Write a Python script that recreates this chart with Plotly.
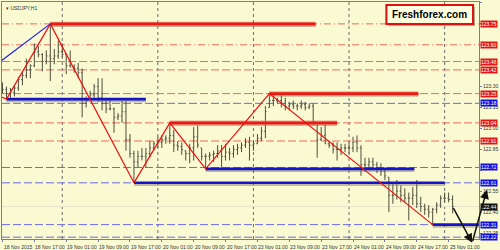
import plotly.graph_objects as go

# ---------------- data ----------------
high = [123.33,123.30,123.29,123.31,123.37,123.40,123.50,123.46,123.61,123.59,
        123.54,123.56,123.75,123.57,123.63,123.61,123.54,123.56,123.46,123.47,
        123.43,123.23,123.27,123.32,123.36,123.36,123.22,123.22,123.15,123.11,
        123.20,123.20,122.96,122.84,122.84,122.86,122.86,122.91,122.91,122.94,
        122.95,122.95,123.04,122.99,122.91,122.90,122.84,122.89,123.01,123.02,
        122.86,122.82,122.83,122.84,122.88,122.88,122.89,122.86,122.88,122.89,
        122.90,122.93,122.94,122.91,122.96,123.01,123.16,123.25,123.24,123.22,
        123.24,123.22,123.19,123.20,123.18,123.20,123.19,123.18,123.18,123.04,
        123.01,123.04,122.91,122.90,122.90,122.89,122.89,122.90,122.94,122.95,
        122.88,122.79,122.79,122.79,122.76,122.75,122.71,122.65,122.61,122.63,
        122.59,122.57,122.54,122.58,122.63,122.51,122.46,122.45,122.43,122.47,
        122.52,122.54,122.54,122.52]
low = [123.25,123.21,123.22,123.23,123.27,123.31,123.36,123.36,123.44,123.51,
       123.41,123.46,123.34,123.46,123.50,123.51,123.39,123.44,123.40,123.36,
       123.08,123.15,123.22,123.22,123.19,123.13,123.11,123.13,122.97,123.06,
       123.04,122.84,122.79,122.61,122.72,122.77,122.72,122.79,122.84,122.86,
       122.86,122.89,122.89,122.83,122.84,122.81,122.77,122.75,122.77,122.86,
       122.77,122.71,122.77,122.76,122.79,122.72,122.77,122.77,122.79,122.81,
       122.83,122.86,122.77,122.84,122.89,122.91,122.93,123.15,123.16,123.18,
       123.15,123.13,123.13,123.14,123.13,123.14,123.13,123.14,123.02,122.79,
       122.91,122.89,122.86,122.82,122.77,122.81,122.83,122.82,122.83,122.83,
       122.66,122.69,122.72,122.71,122.68,122.66,122.63,122.40,122.46,122.49,
       122.47,122.47,122.34,122.45,122.43,122.40,122.38,122.36,122.31,122.39,
       122.43,122.47,122.47,122.39]
close = [123.28,123.25,123.26,123.29,123.35,123.38,123.42,123.45,123.55,123.53,
         123.48,123.52,123.50,123.52,123.55,123.53,123.45,123.44,123.43,123.40,
         123.18,123.20,123.24,123.30,123.22,123.18,123.14,123.14,123.08,123.09,
         123.12,122.92,122.82,122.76,122.80,122.80,122.82,122.86,122.89,122.90,
         122.92,122.93,122.95,122.88,122.87,122.85,122.82,122.86,122.94,122.88,
         122.80,122.80,122.81,122.82,122.84,122.80,122.83,122.82,122.85,122.86,
         122.88,122.90,122.88,122.89,122.93,122.98,123.12,123.20,123.20,123.20,
         123.18,123.16,123.17,123.16,123.16,123.17,123.15,123.16,123.05,122.92,
         122.95,122.89,122.88,122.85,122.85,122.86,122.86,122.86,122.90,122.86,
         122.74,122.74,122.76,122.74,122.72,122.69,122.66,122.52,122.52,122.55,
         122.52,122.50,122.50,122.52,122.46,122.44,122.42,122.40,122.42,122.45,
         122.50,122.50,122.49,122.44]
first_open = 123.30

tick_idx = [0, 8, 16, 24, 32, 40, 48, 56, 64, 72, 80, 88, 96, 104, 112]
tick_text = ["18 Nov 2015", "18 Nov 17:00", "19 Nov 01:00", "19 Nov 09:00",
             "19 Nov 17:00", "20 Nov 01:00", "20 Nov 09:00", "20 Nov 17:00",
             "23 Nov 01:00", "23 Nov 09:00", "23 Nov 17:00", "24 Nov 01:00",
             "24 Nov 09:00", "24 Nov 17:00", "25 Nov 01:00"]
day_starts = [15, 39, 63, 87, 111]

price_ticks = [123.90, 123.75, 123.60, 123.45, 123.30, 123.15, 123.00,
               122.85, 122.70, 122.55, 122.40, 122.25]
# tick labels hidden under the coloured level labels in the reference
hidden_ticks = [123.75, 123.60, 123.45, 122.70]

red_dashdot_levels = [123.75, 123.60]
red_dash_levels = [123.48, 123.42, 123.25, 123.04, 122.91]
blue_dash_levels = [123.18, 122.72, 122.61, 122.31, 122.22]
bid_price = 122.44

thick_red_x0 = [12, 42, 67]
thick_red_x1 = [78.6, 84, 104.4]
thick_red_p = [123.75, 123.04, 123.25]
thick_blue_x0 = [1, 51, 33, 108]
thick_blue_x1 = [36, 103.4, 111, 119.6]
thick_blue_p = [123.21, 122.71, 122.61, 122.31]

zz_x = [-1, 1, 12, 33, 42, 51, 67, 108]
zz_y = [123.235, 123.21, 123.75, 122.61, 123.04, 122.71, 123.25, 122.31]
tl_x = [-1, 12]
tl_y = [123.47, 123.75]
fc_x = [113, 117.9, 121.6, 124.6]
fc_y = [122.44, 122.18, 122.56, 122.13]

# ---------------- styling ----------------
BG = "#FAFAD2"
BAR = "#4e4e3e"
RED = "#f06a5a"
BLUE = "#6b6be0"
FONT = "Liberation Sans, Arial"
X_RANGE = [-0.125, 119.625]
Y_RANGE = [122.207, 123.907]
px_per_price = 238 / (Y_RANGE[1] - Y_RANGE[0])
sh = 1.6 / px_per_price

idx = list(range(len(high)))
opens = []
prev = first_open
for h, l, c in zip(high, low, close):
    opens.append(min(max(prev, l), h))
    prev = c

fig = go.Figure()
fig.add_trace(go.Ohlc(x=idx, open=opens, high=high, low=low, close=close,
                      increasing_line_color=BAR, decreasing_line_color=BAR,
                      line_width=1, tickwidth=0.3, hoverinfo="skip"))


def seg_xy(x0s, x1s, ps, off=0.0):
    xs, ys = [], []
    for a, b, p in zip(x0s, x1s, ps):
        xs += [a, b, None]
        ys += [p - off, p - off, None]
    return xs, ys


for x0s, x1s, ps, col in [(thick_red_x0, thick_red_x1, thick_red_p, "#e81c14"),
                          (thick_blue_x0, thick_blue_x1, thick_blue_p, "#1414cc")]:
    xs, ys = seg_xy(x0s, x1s, ps, sh)
    fig.add_trace(go.Scatter(x=xs, y=ys, mode="lines",
                             line=dict(color="rgba(120,110,90,0.45)", width=3),
                             hoverinfo="skip"))
    xs, ys = seg_xy(x0s, x1s, ps)
    if col == "#e81c14":
        fig.add_trace(go.Scatter(x=xs, y=ys, mode="lines",
                                 line=dict(color="rgba(240,110,100,0.6)", width=4.5),
                                 hoverinfo="skip"))
    fig.add_trace(go.Scatter(x=xs, y=ys, mode="lines", line=dict(color=col, width=2.6),
                             hoverinfo="skip"))

fig.add_trace(go.Scatter(x=zz_x, y=zz_y, mode="lines",
                         line=dict(color="#f01010", width=1.2), hoverinfo="skip"))
fig.add_trace(go.Scatter(x=tl_x, y=tl_y, mode="lines",
                         line=dict(color="#1a1ae8", width=1.2), hoverinfo="skip"))

shapes = []
for d in day_starts:
    shapes.append(dict(type="line", xref="x", yref="paper", x0=d, x1=d, y0=0, y1=1,
                       line=dict(color="#6a6a6a", width=1, dash="dot"), layer="below"))
for p in red_dashdot_levels:
    shapes.append(dict(type="line", xref="paper", yref="y", x0=0, x1=1, y0=p, y1=p,
                       line=dict(color=RED, width=1, dash="7px,3px,1px,3px"), layer="below"))
for p in red_dash_levels:
    shapes.append(dict(type="line", xref="paper", yref="y", x0=0, x1=1, y0=p, y1=p,
                       line=dict(color=RED, width=1, dash="8px,3px"), layer="below"))
for p in blue_dash_levels:
    shapes.append(dict(type="line", xref="paper", yref="y", x0=0, x1=1, y0=p, y1=p,
                       line=dict(color=BLUE, width=1, dash="8px,3px"), layer="below"))
shapes.append(dict(type="line", xref="paper", yref="y", x0=0, x1=1, y0=bid_price, y1=bid_price,
                   line=dict(color="#e4e2c8", width=1), layer="below"))


def px2paper(px, py):
    return (px - 1) / 479.0, (239 - py) / 238.0


# Freshforex box with shadow
sx0, sy0 = px2paper(389, 6)
sx1, sy1 = px2paper(476, 25)
shapes.append(dict(type="rect", xref="paper", yref="paper", x0=sx0, x1=sx1, y0=sy1, y1=sy0,
                   fillcolor="rgba(90,90,70,0.45)", line=dict(width=0), layer="above"))
bx0, by0 = px2paper(387, 4)
bx1, by1 = px2paper(474, 23)
shapes.append(dict(type="rect", xref="paper", yref="paper", x0=bx0, x1=bx1, y0=by1, y1=by0,
                   fillcolor="#FFFFE0", line=dict(color="#e01010", width=2), layer="above"))

annotations = []
annotations.append(dict(x=(bx0 + bx1) / 2, y=(by0 + by1) / 2, xref="paper", yref="paper",
                        xanchor="center", yanchor="middle",
                        text="<b>Freshforex.com</b>", showarrow=False,
                        font=dict(family=FONT, size=10, color="#000")))
annotations.append(dict(x=0, y=1, xref="paper", yref="paper", xanchor="left", yanchor="top",
                        xshift=2, yshift=-1, text="▾ USDJPY,H1", showarrow=False,
                        font=dict(family=FONT, size=5, color="#333")))
for t, lab in zip(tick_idx, tick_text):
    annotations.append(dict(x=t, y=0, xref="x", yref="paper", xanchor="left", yanchor="top",
                            xshift=-1, yshift=-3, text=lab, showarrow=False,
                            font=dict(family=FONT, size=5, color="#333")))

label_items = ([(p, "#e01818") for p in red_dashdot_levels + red_dash_levels] +
               [(p, "#1010e0") for p in blue_dash_levels] + [(bid_price, "#101010")])
for p, col in label_items:
    annotations.append(dict(x=1, y=p, xref="paper", yref="y", xanchor="left", yanchor="middle",
                            xshift=1, text=f"{p:.2f}", showarrow=False, bgcolor=col,
                            borderpad=0,
                            font=dict(family=FONT, size=5, color="#fff")))

for i in range(len(fc_x) - 1):
    annotations.append(dict(x=fc_x[i + 1], y=fc_y[i + 1], ax=fc_x[i], ay=fc_y[i],
                            xref="x", yref="y", axref="x", ayref="y", text="",
                            showarrow=True, arrowhead=2, arrowsize=1.2, arrowwidth=1.5,
                            arrowcolor="#111", standoff=0, startstandoff=0))

fig.update_layout(
    width=500, height=250,
    margin=dict(l=1, r=20, t=1, b=11),
    paper_bgcolor=BG, plot_bgcolor=BG,
    showlegend=False,
    shapes=shapes, annotations=annotations,
    xaxis=dict(range=X_RANGE, rangeslider=dict(visible=False), showgrid=False,
               zeroline=False, showline=True, mirror=True, linecolor="#7878b8",
               linewidth=1, ticks="outside", ticklen=2, tickcolor="#7878b8",
               tickvals=tick_idx, showticklabels=False),
    yaxis=dict(range=Y_RANGE, side="right", showgrid=False, zeroline=False,
               showline=True, mirror=True, linecolor="#7878b8", linewidth=1,
               ticks="outside", ticklen=2, tickcolor="#7878b8",
               tickvals=price_ticks,
               ticktext=["" if p in hidden_ticks else f"{p:.2f}" for p in price_ticks],
               tickfont=dict(family=FONT, size=5, color="#333")),
)

fig.write_html("out.html")
